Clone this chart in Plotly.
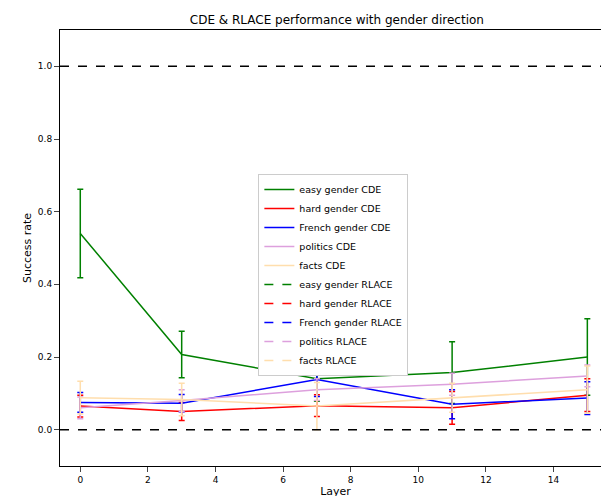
import plotly.graph_objects as go

layers = [0, 3, 7, 11, 15]
names = ["easy gender", "hard gender", "French gender", "politics", "facts"]
colors = ["green", "red", "blue", "plum", "navajowhite"]
cde_vals = [
    [0.54, 0.207, 0.14, 0.157, 0.20],
    [0.065, 0.05, 0.066, 0.06, 0.095],
    [0.075, 0.073, 0.138, 0.07, 0.087],
    [0.06, 0.08, 0.11, 0.125, 0.148],
    [0.088, 0.083, 0.065, 0.088, 0.11],
]
cde_err = [
    [0.122, 0.064, 0.062, 0.085, 0.105],
    [0.03, 0.025, 0.03, 0.045, 0.045],
    [0.027, 0.024, 0.047, 0.04, 0.045],
    [0.03, 0.03, 0.03, 0.03, 0.03],
    [0.045, 0.045, 0.065, 0.04, 0.065],
]

fig = go.Figure()
for n, c, v, e in zip(names, colors, cde_vals, cde_err):
    fig.add_trace(go.Scatter(x=layers, y=v, mode="lines", name=n + " CDE",
                             line=dict(color=c, width=1.5),
                             error_y=dict(type="data", array=e, color=c, thickness=1.5, width=3)))
for n, c in zip(names, colors):
    fig.add_trace(go.Scatter(x=[None], y=[None], mode="lines", name=n + " RLACE",
                             line=dict(color=c, width=1.5, dash="dash"), showlegend=True))
for yv in [0, 1]:
    fig.add_shape(type="line", xref="paper", x0=0, x1=1, y0=yv, y1=yv,
                  line=dict(color="black", width=1.5, dash="dash"))

fig.update_layout(
    width=609, height=496, paper_bgcolor="white", plot_bgcolor="white",
    margin=dict(l=52, r=6, t=22, b=38, autoexpand=False),
    font=dict(family="DejaVu Sans", size=9, color="black"),
    title=dict(text="CDE & RLACE performance with gender direction", x=0.54, y=0.985, font=dict(size=12)),
    xaxis=dict(title=dict(text="Layer", standoff=2), range=[-0.6, 15.7], tickvals=list(range(0, 15, 2)),
               showline=True, linecolor="black", mirror=True, ticks="outside", showgrid=False, zeroline=False,
               automargin=False),
    yaxis=dict(title=dict(text="Success rate", standoff=4), range=[-0.1, 1.1], tickvals=[0, 0.2, 0.4, 0.6, 0.8, 1.0],
               tickformat=".1f", showline=True, linecolor="black", mirror=True, ticks="outside",
               showgrid=False, zeroline=False, automargin=False),
    legend=dict(x=0.36, y=0.67, xanchor="left", yanchor="top", bgcolor="white",
                bordercolor="#ccc", borderwidth=1, font=dict(size=9.5), tracegroupgap=0),
)
fig.write_html("out.html")
